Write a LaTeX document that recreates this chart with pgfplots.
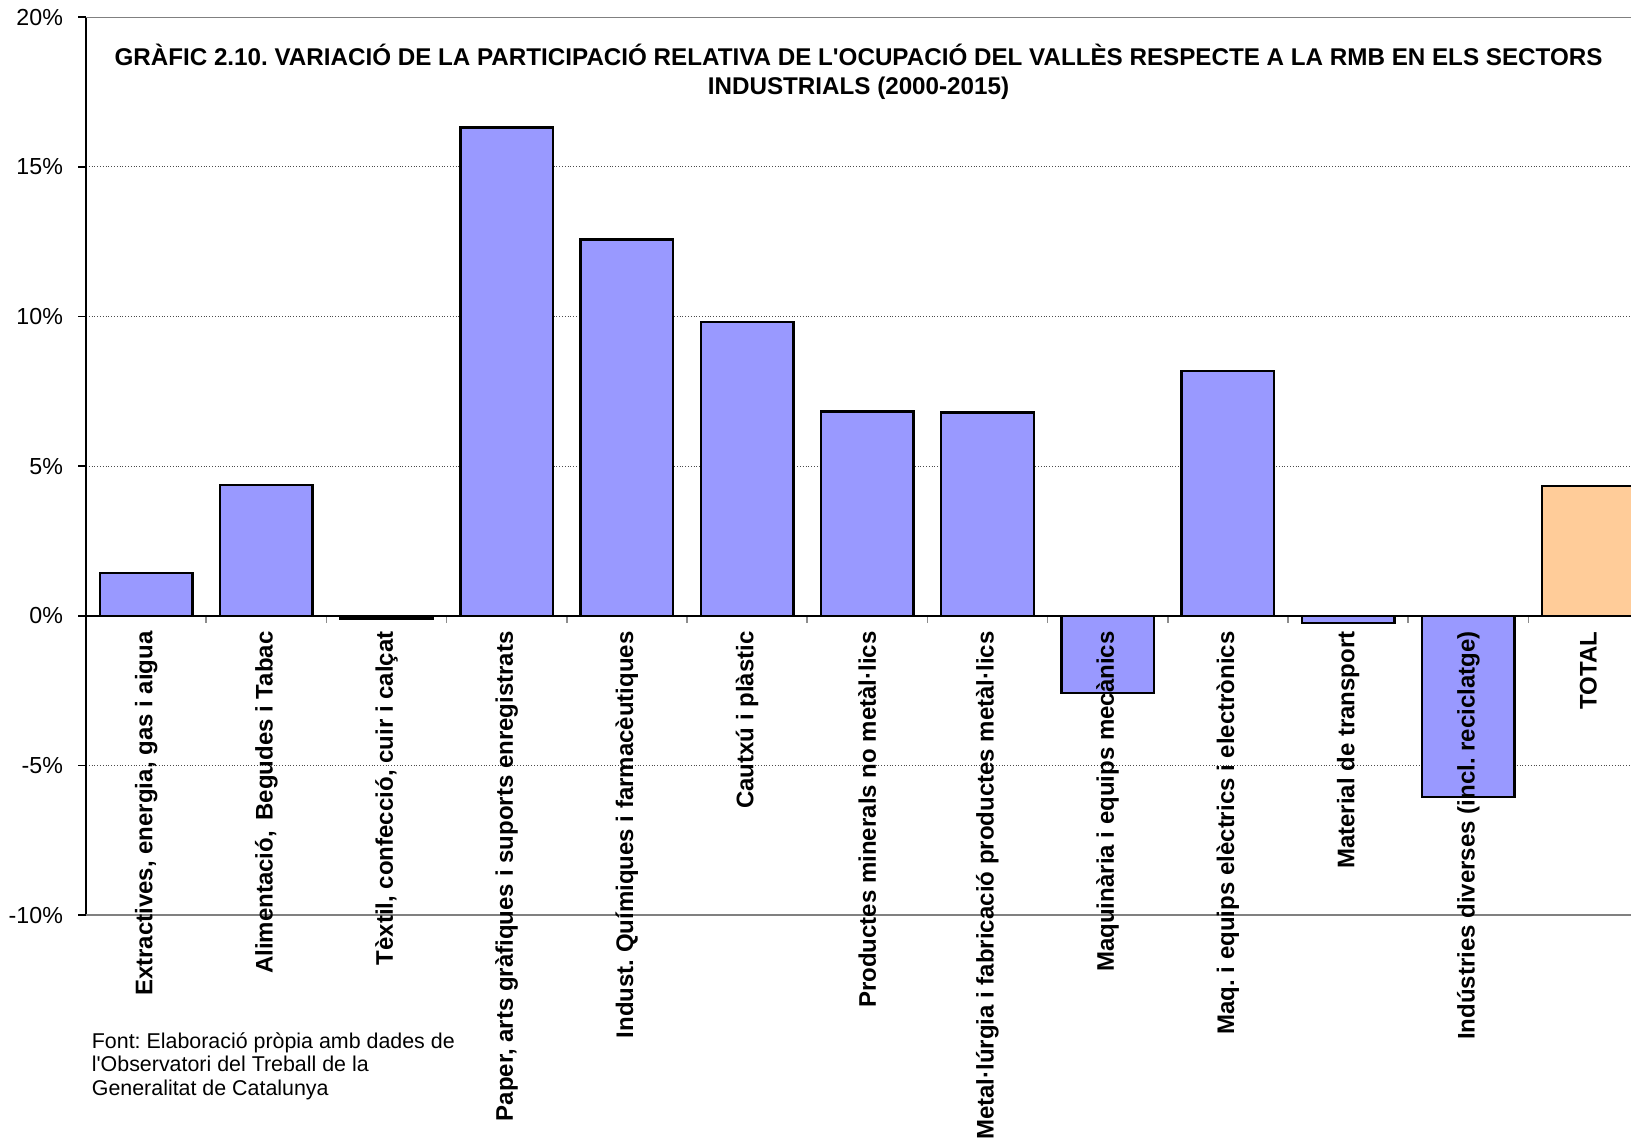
\documentclass[border=0pt]{standalone}
\usepackage{pgfplots}
\pgfplotsset{compat=1.18}
\usepackage{fontspec}
\setmainfont{Liberation Sans}
\definecolor{barblue}{HTML}{9999FF}
\definecolor{barorange}{HTML}{FFCC99}
\frenchspacing
% tick labels drawn above the bars, grid below them
\pgfplotsset{
layers/labelstop/.define layer set={
axis background,axis grid,axis ticks,axis lines,pre main,main,axis tick labels,axis descriptions,axis foreground
}{/pgfplots/layers/standard},
}
\begin{document}
\begin{tikzpicture}
\begin{axis}[
set layers=labelstop,
scale only axis,
width=772.5pt,height=449pt,
xmin=-0.5,xmax=12.354,
ymin=-10,ymax=20,
axis x line*=middle,
axis y line*=left,
ybar,bar width=0.77,bar shift=0pt,
xtick={0,...,12},
xticklabels={{Extractives, energia, gas i aigua},{Alimentació,\ \,Begudes i Tabac},{Tèxtil, confecció, cuir i calçat},{Paper, arts gràfiques i suports enregistrats},{Indust. Químiques i farmacèutiques},{Cautxú i plàstic},{Productes minerals no metàl·lics},{Metal·lúrgia i fabricació productes metàl·lics},{Maquinària i equips mecànics},{Maq. i equips elèctrics i electrònics},{Material de transport},{Indústries diverses (incl. reciclatge)},{TOTAL}},
major x tick style={draw=none},
minor xtick={0.5,1.5,...,12.5},
minor x tick style={black!45,line width=0.8pt},
minor tick length=3.5pt,
xtick align=outside,
ytick={-10,-5,...,20},
yticklabels={-10\%,-5\%,0\%,5\%,10\%,15\%,20\%},
ytick align=outside,major tick length=4pt,
ymajorgrids,major grid style={densely dotted,black!70,line width=0.5pt},
y axis line style={black,line width=1pt},
x axis line style={black,line width=0.8pt},
y tick style={black,line width=0.8pt},
y tick label style={font=\fontsize{11.6}{13}\selectfont,anchor=east,inner sep=0pt,xshift=-7.35pt},
x tick label style={font=\bfseries\fontsize{12}{14}\selectfont,rotate=90,anchor=east,inner sep=0pt,xshift=-3.6pt},
title={GRÀFIC 2.10. VARIACIÓ DE LA PARTICIPACIÓ RELATIVA DE L\textquotesingle{}OCUPACIÓ DEL VALLÈS RESPECTE A LA RMB EN ELS SECTORS\\INDUSTRIALS (2000-2015)},
title style={at={(0.5,0.926)},anchor=center,align=center,font=\bfseries\fontsize{12.1}{14.1}\selectfont},
]
\addplot[fill=barblue,draw=black,line width=1.2pt] coordinates {
(0,1.43) (1,4.38) (2,-0.08) (3,16.32) (4,12.57) (5,9.82) (6,6.83)
(7,6.80) (8,-2.57) (9,8.18) (10,-0.23) (11,-6.04)};
\addplot[fill=barorange,draw=black,line width=1.2pt] coordinates {(12,4.34)};
\draw[black!50,line width=1pt] (rel axis cs:0,1) -- (rel axis cs:1,1);
\draw[black!50,line width=1pt] (rel axis cs:0,0) -- (rel axis cs:1,0);
\end{axis}
\node[anchor=base west,inner sep=0pt] at (2.75pt,-66.6pt) {\fontsize{10.7}{11.65}\selectfont\begin{tabular}[t]{@{}l@{}}Font: Elaboració pròpia amb dades de\\l\textquotesingle{}Observatori del Treball de la\\Generalitat de Catalunya\end{tabular}};
\pgfresetboundingbox
\useasboundingbox (-43pt,-113.85pt) rectangle (772.5pt,457.65pt);
\end{tikzpicture}
\end{document}
